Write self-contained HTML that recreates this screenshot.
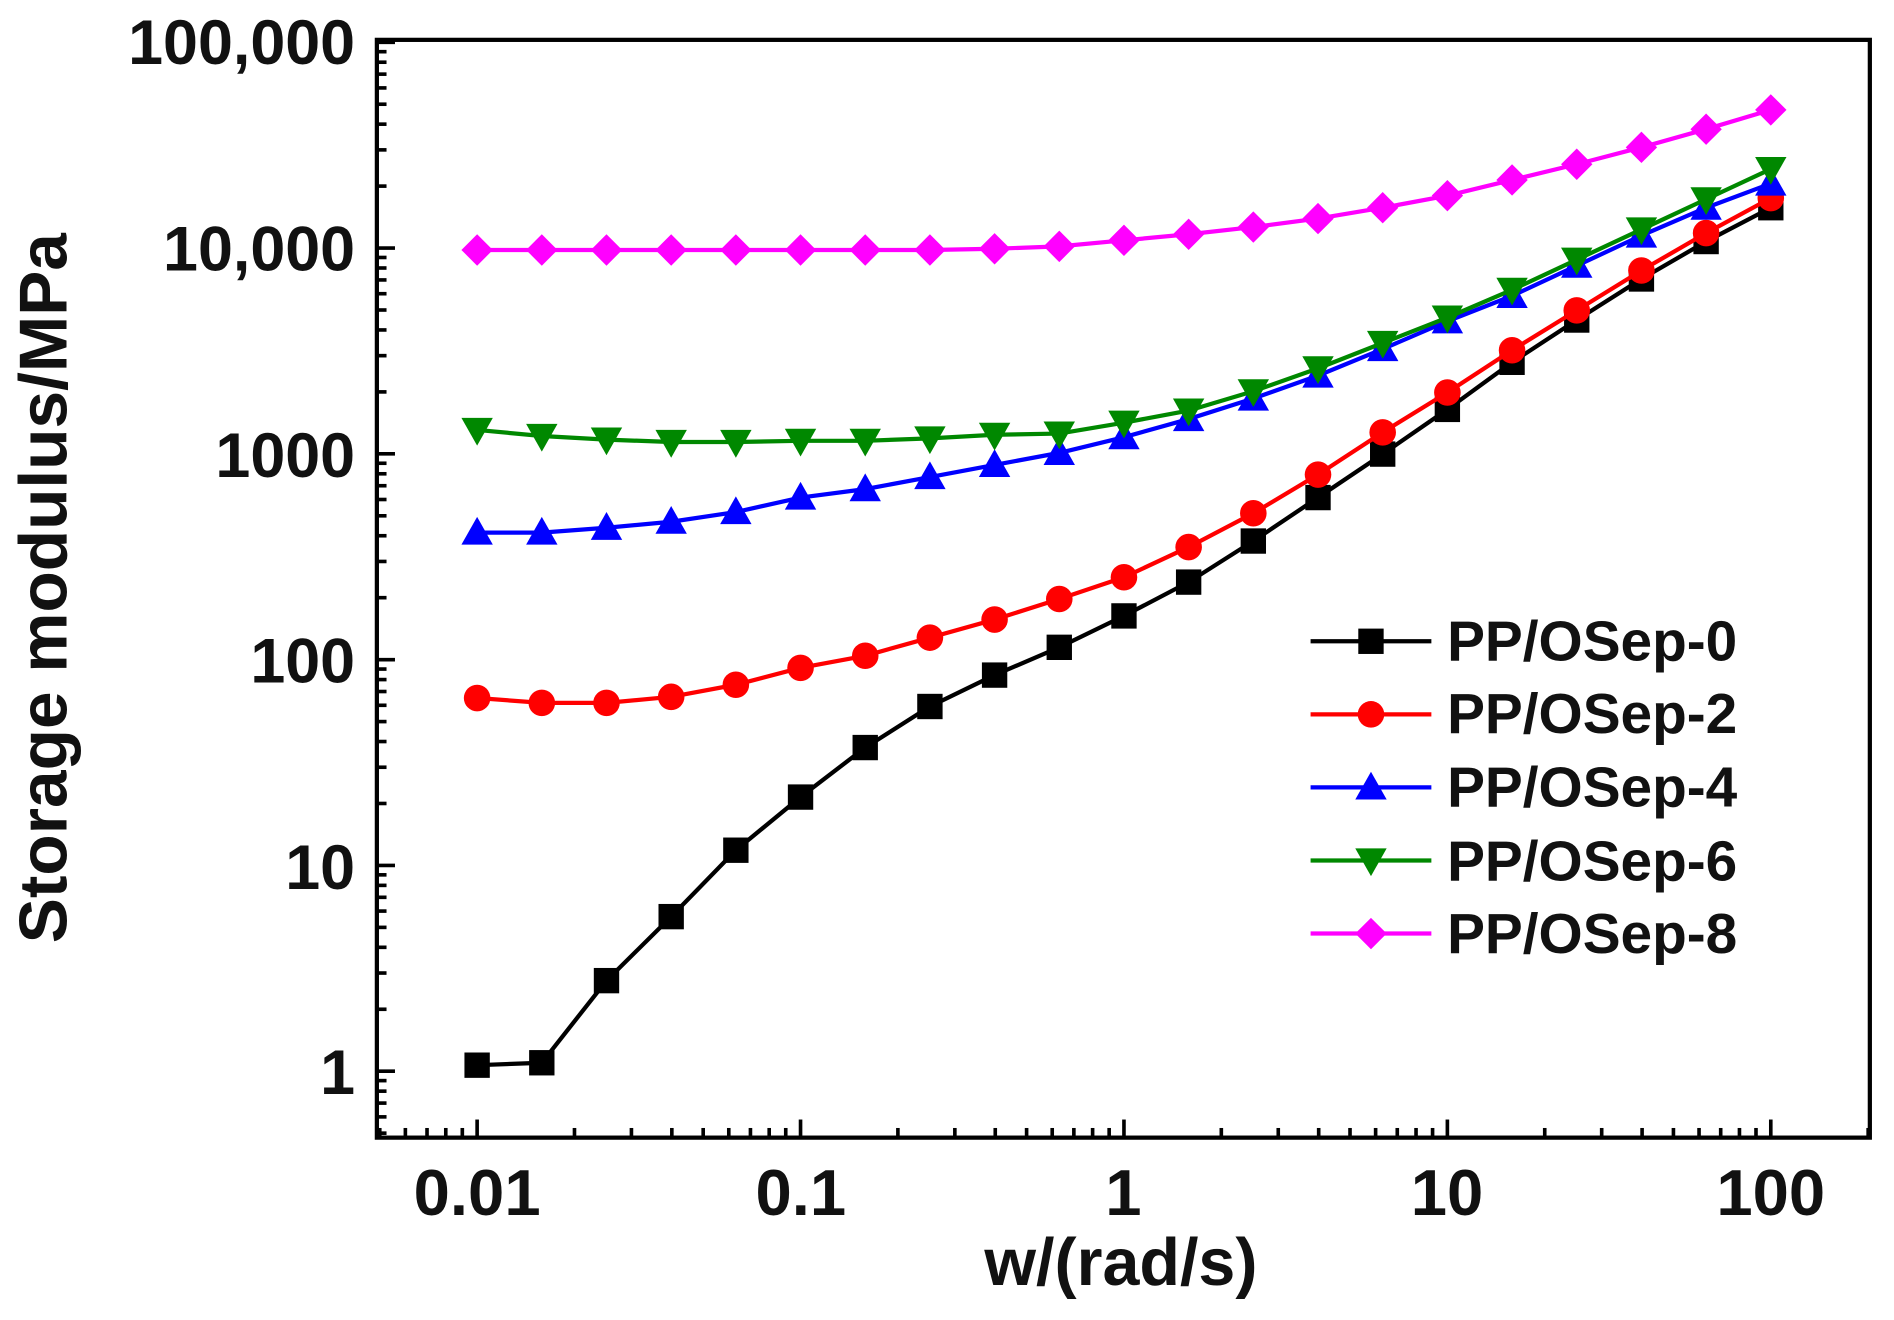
<!DOCTYPE html>
<html><head><meta charset="utf-8"><style>
html,body{margin:0;padding:0;background:#fff;}
svg{display:block;}
text{font-family:"Liberation Sans",Arial,sans-serif;font-weight:bold;fill:#111;}
</style></head><body>
<svg id="s" width="1894" height="1320" viewBox="0 0 1568 1093" preserveAspectRatio="none" xmlns="http://www.w3.org/2000/svg">
<defs>
<rect id="sq" x="-10.5" y="-10.5" width="21" height="21" fill="#000"/>
<circle id="ci" r="11" fill="#f00"/>
<polygon id="tu" points="0,-13 13,10 -13,10" fill="#00f"/>
<polygon id="td" points="0,13 13,-10 -13,-10" fill="#080"/>
<polygon id="di" points="0,-13 13,0 0,13 -13,0" fill="#f0f"/>
</defs>
<rect x="312" y="33" width="1236" height="909" fill="none" stroke="#000" stroke-width="3.5"/>
<g id="ticks" stroke="#000" stroke-width="3"></g>
<g id="series"></g>
<g font-size="52" text-anchor="end">
<text x="294" y="53">100,000</text>
<text x="294" y="224">10,000</text>
<text x="294" y="395">1000</text>
<text x="294" y="565">100</text>
<text x="294" y="736">10</text>
<text x="294" y="906">1</text>
</g>
<g font-size="54" text-anchor="middle">
<text x="395" y="1006">0.01</text>
<text x="663" y="1006">0.1</text>
<text x="930" y="1006">1</text>
<text x="1198" y="1006">10</text>
<text x="1466" y="1006">100</text>
</g>
<text x="928" y="1064" font-size="55" text-anchor="middle">w/(rad/s)</text>
<text transform="translate(55,487) rotate(-90)" font-size="56" text-anchor="middle">Storage modulus/MPa</text>
<g id="legend"></g>
<g font-size="47">
<text x="1198" y="547">PP/OSep-0</text>
<text x="1198" y="607">PP/OSep-2</text>
<text x="1198" y="668">PP/OSep-4</text>
<text x="1198" y="729">PP/OSep-6</text>
<text x="1198" y="789">PP/OSep-8</text>
</g>
</svg>
<script>
var NS="http://www.w3.org/2000/svg";
function el(t,a,p){var e=document.createElementNS(NS,t);for(var k in a)e.setAttribute(k,a[k]);p.appendChild(e);return e;}
var tk=document.getElementById("ticks");
var L=312,R=1548,T=33,B=942,DX=267.75,DY=170.4;
for(var d=-3;d<=2;d++)for(var m=1;m<10;m++){var x=395+(d+2+Math.log10(m))*DX;if(x<=L+1||x>=R-1)continue;var len=m==1?15:8;el("line",{x1:x,y1:B,x2:x,y2:B-len},tk);}
for(var d=-1;d<=5;d++)for(var m=1;m<10;m++){var y=887-(d+Math.log10(m))*DY;if(y<=T+1||y>=B-1)continue;var len=m==1?15:8;el("line",{x1:L,y1:y,x2:L+len,y2:y},tk);}
var xs=[];for(var i=0;i<21;i++)xs.push(395+i*53.55);
var S=[
["#000","sq",[882,880,812,759,704,660,619,585,559,536,510,482,448,412,376,339,300,265,231,200,172]],
["#f00","ci",[578,582,582,577,567,553,543,528,513,496,478,453,425,393,358,325,290,257,224,193,164]],
["#00f","tu",[441,441,437,432,424,412,405,395,385,375,362,347,330,311,289,266,245,220,195,172,152]],
["#080","td",[356,361,364,366,366,365,365,363,360,359,350,340,324,305,284,263,240,215,190,165,140]],
["#f0f","di",[207,207,207,207,207,207,207,207,206,204,199,194,188,181,172,162,149,136,122,107,91]]];
var sg=document.getElementById("series"),lg=document.getElementById("legend");
S.forEach(function(s,k){
 var p=s[2].map(function(y,i){return xs[i]+","+y;}).join(" ");
 el("polyline",{points:p,fill:"none",stroke:s[0],"stroke-width":3.5},sg);
 s[2].forEach(function(y,i){el("use",{href:"#"+s[1],x:xs[i],y:y},sg);});
 var ly=531+k*60.5;
 el("line",{x1:1085,y1:ly,x2:1185,y2:ly,stroke:s[0],"stroke-width":3.5},lg);
 el("use",{href:"#"+s[1],x:1135,y:ly},lg);
});
</script>
</body></html>
